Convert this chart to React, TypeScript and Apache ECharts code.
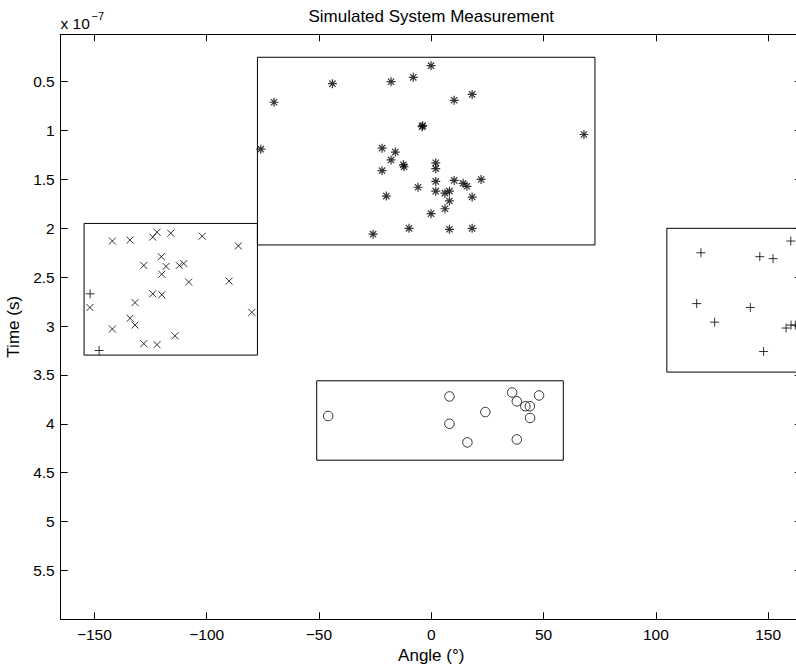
import React, { useEffect, useRef } from "react";
import * as echarts from "echarts";

const FONT = '"Liberation Sans", Arial, Helvetica, sans-serif';

// Angle in degrees, time in units of 1e-7 s.
const starPoints: [number, number][] = [
  [-70.0, 0.71], [-44.0, 0.52], [-17.9, 0.5], [-8.0, 0.455], [-0.1, 0.336],
  [10.2, 0.69], [18.2, 0.63], [-4.1, 0.96], [-3.8, 0.95], [68.0, 1.04],
  [-75.9, 1.19], [-21.9, 1.18], [-16.0, 1.22], [-17.9, 1.3], [-12.1, 1.37],
  [-12.4, 1.35], [-21.9, 1.41], [2.0, 1.33], [2.0, 1.39], [2.0, 1.52],
  [10.2, 1.51], [14.2, 1.54], [15.9, 1.57], [22.2, 1.5], [-5.9, 1.58],
  [2.0, 1.62], [6.1, 1.64], [8.1, 1.62], [8.1, 1.72], [18.2, 1.68],
  [-20.0, 1.67], [6.1, 1.8], [-0.1, 1.85], [-25.9, 2.06], [-9.9, 2.0],
  [8.1, 2.01], [18.2, 2.0],
];

const crossPoints: [number, number][] = [
  [-142.0, 2.13], [-134.1, 2.12], [-124.0, 2.09], [-122.1, 2.04], [-116.0, 2.05],
  [-102.0, 2.08], [-85.9, 2.18], [-120.2, 2.29], [-128.0, 2.38], [-118.1, 2.39],
  [-112.2, 2.38], [-110.2, 2.36], [-120.0, 2.47], [-108.0, 2.55], [-90.0, 2.54],
  [-124.0, 2.67], [-120.0, 2.68], [-131.9, 2.76], [-152.0, 2.81], [-79.9, 2.86],
  [-134.1, 2.92], [-131.9, 2.99], [-142.0, 3.03], [-114.1, 3.1], [-128.0, 3.18],
  [-122.1, 3.19],
];

const plusPoints: [number, number][] = [
  [120.1, 2.25], [146.3, 2.29], [152.2, 2.31], [160.1, 2.13], [118.2, 2.77],
  [142.1, 2.81], [126.2, 2.96], [158.0, 3.02], [160.2, 2.99], [162.1, 2.99],
  [148.0, 3.26], [-151.9, 2.67], [-147.9, 3.25],
];

const circlePoints: [number, number][] = [
  [-45.9, 3.92], [8.1, 3.72], [8.1, 4.0], [16.1, 4.19], [24.1, 3.88],
  [36.0, 3.68], [38.1, 3.77], [41.9, 3.82], [43.9, 3.82], [48.0, 3.71],
  [44.0, 3.94], [38.1, 4.16],
];

// [angle from, angle to, time from, time to]
const regionBoxes: [number, number, number, number][] = [
  [-77.4, 72.9, 0.25, 2.17],
  [-154.6, -77.4, 1.95, 3.297],
  [-51.0, 58.8, 3.56, 4.372],
  [104.9, 175, 2.0, 3.471],
];

const xTicks = [-150, -100, -50, 0, 50, 100, 150];
const yTicks = [0.5, 1, 1.5, 2, 2.5, 3, 3.5, 4, 4.5, 5, 5.5];
const X_MIN = -165;
const X_MAX = 165;
const Y_MIN = 0.015;
const Y_MAX = 6;

const STAR = "path://M5 0L5 10M0 5L10 5M1.5 1.5L8.5 8.5M1.5 8.5L8.5 1.5";
const CROSS = "path://M0 0L10 10M0 10L10 0";
const PLUS = "path://M5 0L5 10M0 5L10 5";

const fmtX = (v: number) => (v < 0 ? "\u2212" + Math.abs(v) : String(v));

const markerStyle = {
  color: "rgba(0,0,0,0)",
  borderColor: "#000",
  borderWidth: 1,
};

export default function App() {
  const ref = useRef<HTMLDivElement>(null);

  useEffect(() => {
    if (!ref.current) return;
    const chart = echarts.init(ref.current, undefined, { renderer: "svg" });

    const line = { color: "#000", width: 1 };
    const tick = { show: true, inside: true, length: 7, lineStyle: line };

    const baseX = {
      type: "value" as const,
      min: X_MIN,
      max: X_MAX,
      splitLine: { show: false },
      axisLine: { show: true, onZero: false, lineStyle: line },
    };
    const baseY = {
      type: "value" as const,
      min: Y_MIN,
      max: Y_MAX,
      inverse: true,
      splitLine: { show: false },
      axisLine: { show: true, onZero: false, lineStyle: line },
    };

    chart.setOption({
      animation: false,
      backgroundColor: "#fff",
      title: {
        text: "Simulated System Measurement",
        left: 431.25,
        top: 16,
        padding: 0,
        textAlign: "center",
        textVerticalAlign: "middle",
        textStyle: { fontFamily: FONT, fontSize: 17, fontWeight: "normal", color: "#000" },
      },
      grid: {
        left: 60.7,
        right: 28.2,
        top: 34.3,
        bottom: 51.7,
        containLabel: false,
        outerBoundsMode: "none",
      },
      xAxis: [
        {
          ...baseX,
          position: "bottom",
          name: "Angle (°)",
          nameLocation: "middle",
          nameGap: 28,
          nameTextStyle: { fontFamily: FONT, fontSize: 17, color: "#000" },
          axisTick: { ...tick, customValues: xTicks },
          axisLabel: {
            customValues: xTicks,
            formatter: fmtX,
            margin: 7,
            color: "#000",
            fontFamily: FONT,
            fontSize: 15.5,
          },
        },
        {
          ...baseX,
          position: "top",
          axisTick: { ...tick, customValues: xTicks },
          axisLabel: { show: false },
        },
      ],
      yAxis: [
        {
          ...baseY,
          position: "left",
          name: "Time (s)",
          nameLocation: "middle",
          nameGap: 30,
          nameRotate: 90,
          nameTextStyle: { fontFamily: FONT, fontSize: 17, color: "#000" },
          axisTick: { ...tick, customValues: yTicks },
          axisLabel: {
            customValues: yTicks,
            margin: 6,
            color: "#000",
            fontFamily: FONT,
            fontSize: 15.5,
          },
        },
        {
          ...baseY,
          position: "right",
          axisTick: { ...tick, customValues: yTicks },
          axisLabel: { show: false },
        },
      ],
      graphic: [
        {
          type: "text",
          x: 60.5,
          y: 23.5,
          style: {
            text: "x 10",
            font: `15.5px ${FONT}`,
            fill: "#000",
            textVerticalAlign: "middle",
          },
        },
        {
          type: "text",
          x: 91.5,
          y: 16,
          style: {
            text: "\u22127",
            font: `11px ${FONT}`,
            fill: "#000",
            textVerticalAlign: "middle",
          },
        },
      ],
      series: [
        {
          type: "custom",
          silent: true,
          data: regionBoxes,
          encode: { x: [0, 1], y: [2, 3] },
          renderItem: (params: any, api: any) => {
            const cs = params.coordSys;
            const a = api.coord([api.value(0), api.value(2)]);
            const b = api.coord([api.value(1), api.value(3)]);
            const left = Math.max(Math.min(a[0], b[0]), cs.x);
            const right = Math.min(Math.max(a[0], b[0]), cs.x + cs.width);
            const top = Math.min(a[1], b[1]);
            const bottom = Math.max(a[1], b[1]);
            return {
              type: "rect",
              shape: { x: left, y: top, width: right - left, height: bottom - top },
              style: { fill: "none", stroke: "#000", lineWidth: 1 },
            };
          },
        },
        {
          type: "scatter",
          data: starPoints,
          symbol: STAR,
          symbolSize: 9,
          itemStyle: { ...markerStyle, borderWidth: 1.2 },
          silent: true,
        },
        {
          type: "scatter",
          data: crossPoints,
          symbol: CROSS,
          symbolSize: 7,
          itemStyle: markerStyle,
          silent: true,
        },
        {
          type: "scatter",
          data: plusPoints,
          symbol: PLUS,
          symbolSize: 9,
          itemStyle: markerStyle,
          silent: true,
        },
        {
          type: "scatter",
          data: circlePoints,
          symbol: "circle",
          symbolSize: 9.5,
          itemStyle: markerStyle,
          silent: true,
        },
      ],
    });

    return () => chart.dispose();
  }, []);

  return (
    <div
      style={{
        position: "fixed",
        left: 0,
        top: 0,
        width: 796,
        height: 671,
        overflow: "hidden",
        background: "#fff",
      }}
    >
      <div ref={ref} style={{ width: 830, height: 671 }} />
    </div>
  );
}
